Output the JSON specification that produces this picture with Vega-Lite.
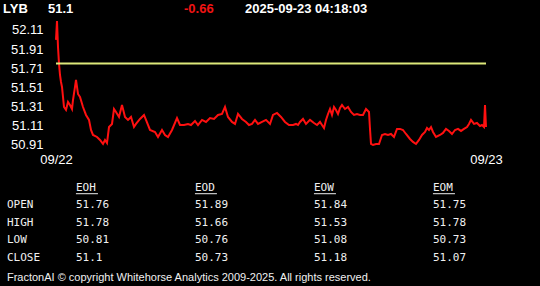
{
  "$schema": "https://vega.github.io/schema/vega-lite/v6.json",
  "background": "black",
  "padding": 0,
  "spacing": 0,
  "config": {"view": {"stroke": null}, "concat": {"spacing": 0}, "axis": {"labelOverlap": false}, "axisY": {"labelOverlap": false}},
  "datasets": {
    "header": [{"sym": "LYB", "last": "51.1", "chg": "-0.66", "ts": "2025-09-23 04:18:03"}],
    "price": [
      {"t":0,"v":52.006},{"t":1,"v":52.204},{"t":2,"v":51.933},{"t":3,"v":51.758},{"t":4,"v":51.640},{"t":5,"v":51.567},{"t":6,"v":51.515},{"t":7,"v":51.411},{"t":8,"v":51.306},{"t":10,"v":51.275},{"t":12,"v":51.358},{"t":14,"v":51.327},{"t":16,"v":51.285},{"t":17,"v":51.379},{"t":19,"v":51.515},{"t":20,"v":51.588},{"t":22,"v":51.442},{"t":24,"v":51.411},{"t":27,"v":51.306},{"t":30,"v":51.223},{"t":33,"v":51.171},{"t":35,"v":51.066},{"t":37,"v":51.014},{"t":41,"v":50.993},{"t":44,"v":50.962},{"t":47,"v":50.920},{"t":49,"v":50.962},{"t":51,"v":50.930},{"t":53,"v":51.097},{"t":56,"v":51.129},{"t":58,"v":51.285},{"t":60,"v":51.254},{"t":63,"v":51.202},{"t":66,"v":51.327},{"t":69,"v":51.202},{"t":72,"v":51.171},{"t":75,"v":51.202},{"t":78,"v":51.097},{"t":80,"v":51.129},{"t":84,"v":51.181},{"t":88,"v":51.223},{"t":90,"v":51.171},{"t":94,"v":51.066},{"t":99,"v":51.045},{"t":102,"v":50.993},{"t":106,"v":51.066},{"t":109,"v":51.014},{"t":112,"v":50.993},{"t":116,"v":51.066},{"t":121,"v":51.191},{"t":124,"v":51.118},{"t":128,"v":51.118},{"t":132,"v":51.129},{"t":135,"v":51.118},{"t":139,"v":51.160},{"t":142,"v":51.118},{"t":146,"v":51.171},{"t":150,"v":51.150},{"t":154,"v":51.191},{"t":158,"v":51.181},{"t":162,"v":51.223},{"t":166,"v":51.233},{"t":169,"v":51.306},{"t":172,"v":51.202},{"t":176,"v":51.150},{"t":179,"v":51.129},{"t":182,"v":51.233},{"t":186,"v":51.181},{"t":190,"v":51.150},{"t":193,"v":51.118},{"t":196,"v":51.129},{"t":199,"v":51.171},{"t":202,"v":51.129},{"t":206,"v":51.150},{"t":210,"v":51.171},{"t":214,"v":51.129},{"t":217,"v":51.223},{"t":221,"v":51.244},{"t":225,"v":51.202},{"t":229,"v":51.150},{"t":233,"v":51.118},{"t":237,"v":51.118},{"t":240,"v":51.129},{"t":242,"v":51.118},{"t":244,"v":51.150},{"t":247,"v":51.181},{"t":250,"v":51.129},{"t":254,"v":51.171},{"t":258,"v":51.139},{"t":261,"v":51.118},{"t":264,"v":51.150},{"t":266,"v":51.118},{"t":268,"v":51.087},{"t":270,"v":51.171},{"t":272,"v":51.233},{"t":274,"v":51.285},{"t":276,"v":51.223},{"t":278,"v":51.306},{"t":280,"v":51.275},{"t":282,"v":51.233},{"t":284,"v":51.296},{"t":286,"v":51.327},{"t":289,"v":51.285},{"t":292,"v":51.306},{"t":295,"v":51.254},{"t":298,"v":51.223},{"t":301,"v":51.233},{"t":304,"v":51.223},{"t":307,"v":51.223},{"t":310,"v":51.285},{"t":313,"v":51.254},{"t":314,"v":51.077},{"t":315,"v":50.920},{"t":317,"v":50.910},{"t":320,"v":50.920},{"t":323,"v":50.920},{"t":326,"v":51.014},{"t":329,"v":51.024},{"t":332,"v":51.014},{"t":335,"v":51.024},{"t":338,"v":50.993},{"t":341,"v":51.077},{"t":344,"v":51.077},{"t":347,"v":51.066},{"t":350,"v":51.024},{"t":354,"v":50.972},{"t":357,"v":50.941},{"t":360,"v":50.920},{"t":363,"v":50.962},{"t":366,"v":51.014},{"t":369,"v":51.045},{"t":371,"v":51.087},{"t":373,"v":51.066},{"t":375,"v":51.097},{"t":377,"v":51.045},{"t":380,"v":50.993},{"t":384,"v":51.014},{"t":387,"v":51.035},{"t":390,"v":51.077},{"t":393,"v":51.056},{"t":396,"v":51.024},{"t":399,"v":51.066},{"t":402,"v":51.077},{"t":405,"v":51.056},{"t":408,"v":51.077},{"t":411,"v":51.097},{"t":413,"v":51.129},{"t":415,"v":51.171},{"t":418,"v":51.129},{"t":421,"v":51.139},{"t":424,"v":51.108},{"t":426,"v":51.118},{"t":428,"v":51.097},{"t":429,"v":51.327},{"t":430,"v":51.097}
    ],
    "ref": [{"level": 51.76}],
    "cols": [{"col": "EOH"}, {"col": "EOD"}, {"col": "EOW"}, {"col": "EOM"}],
    "rows": [{"row": "OPEN"}, {"row": "HIGH"}, {"row": "LOW"}, {"row": "CLOSE"}],
    "table": [
      {"row": "OPEN", "col": "EOH", "val": "51.76"},
      {"row": "OPEN", "col": "EOD", "val": "51.89"},
      {"row": "OPEN", "col": "EOW", "val": "51.84"},
      {"row": "OPEN", "col": "EOM", "val": "51.75"},
      {"row": "HIGH", "col": "EOH", "val": "51.78"},
      {"row": "HIGH", "col": "EOD", "val": "51.66"},
      {"row": "HIGH", "col": "EOW", "val": "51.53"},
      {"row": "HIGH", "col": "EOM", "val": "51.78"},
      {"row": "LOW", "col": "EOH", "val": "50.81"},
      {"row": "LOW", "col": "EOD", "val": "50.76"},
      {"row": "LOW", "col": "EOW", "val": "51.08"},
      {"row": "LOW", "col": "EOM", "val": "50.73"},
      {"row": "CLOSE", "col": "EOH", "val": "51.1"},
      {"row": "CLOSE", "col": "EOD", "val": "50.73"},
      {"row": "CLOSE", "col": "EOW", "val": "51.18"},
      {"row": "CLOSE", "col": "EOM", "val": "51.07"}
    ],
    "footer": [{"text": "FractonAI © copyright Whitehorse Analytics 2009-2025. All rights reserved."}]
  },
  "vconcat": [
    {
      "width": 484,
      "height": 12,
      "data": {"name": "header"},
      "layer": [
        {"mark": {"type": "text", "align": "left", "baseline": "alphabetic", "font": "Liberation Sans", "fontSize": 13, "fontWeight": "bold", "color": "white", "x": -53, "y": 12.5}, "encoding": {"text": {"field": "sym"}}},
        {"mark": {"type": "text", "align": "left", "baseline": "alphabetic", "font": "Liberation Sans", "fontSize": 13, "fontWeight": "bold", "color": "white", "x": -8, "y": 12.5}, "encoding": {"text": {"field": "last"}}},
        {"mark": {"type": "text", "align": "left", "baseline": "alphabetic", "font": "Liberation Sans", "fontSize": 13, "fontWeight": "bold", "color": "#f01414", "x": 128, "y": 12.5}, "encoding": {"text": {"field": "chg"}}},
        {"mark": {"type": "text", "align": "left", "baseline": "alphabetic", "font": "Liberation Sans", "fontSize": 13, "fontWeight": "bold", "color": "white", "x": 189, "y": 12.5}, "encoding": {"text": {"field": "ts"}}}
      ]
    },
    {
      "width": 430,
      "height": 130,
      "resolve": {"axis": {"y": "independent", "x": "independent"}},
      "layer": [
        {
          "data": {"name": "price"},
          "mark": {"type": "line", "color": "#ff1010", "strokeWidth": 2},
          "encoding": {
            "x": {"field": "t", "type": "quantitative", "scale": {"domain": [0, 430], "nice": false, "zero": false},
              "axis": {"values": [0, 430], "labelExpr": "datum.value == 0 ? '09/22' : '09/23'", "labelFlush": false, "labelOverlap": false, "ticks": false, "domain": false, "grid": false, "labelPadding": 3, "labelFont": "Liberation Sans", "labelFontSize": 13, "labelColor": "white", "title": null}},
            "y": {"field": "v", "type": "quantitative", "scale": {"domain": [50.857, 52.214], "nice": false, "zero": false},
              "axis": {"values": [50.91, 51.11, 51.31, 51.51, 51.71, 51.91, 52.11], "format": ".2f", "labelOverlap": false, "labelBound": false, "labelSeparation": 0, "ticks": false, "domain": false, "grid": false, "labelPadding": 13, "minExtent": 56, "labelFont": "Liberation Sans", "labelFontSize": 13, "labelColor": "white", "title": null}}
          }
        },
        {
          "data": {"name": "ref"},
          "mark": {"type": "rule", "color": "#dde87a", "strokeWidth": 2},
          "encoding": {"y": {"field": "level", "type": "quantitative", "axis": null}}
        }
      ]
    },
    {
      "width": 484,
      "height": 123,
      "encoding": {
        "x": {"type": "nominal", "scale": {"type": "point", "domain": ["EOH", "EOD", "EOW", "EOM"], "padding": 0.5336, "align": 0.157}, "axis": null},
        "y": {"type": "nominal", "scale": {"type": "point", "domain": ["hdr", "OPEN", "HIGH", "LOW", "CLOSE", "foot"], "padding": 1.1176, "align": 0.618}, "axis": null}
      },
      "layer": [
        {
          "data": {"name": "cols"},
          "mark": {"type": "text", "align": "left", "baseline": "middle", "font": "DejaVu Sans Mono", "fontSize": 11, "color": "#f0f0f0"},
          "encoding": {"x": {"field": "col", "type": "nominal"}, "y": {"datum": "hdr"}, "text": {"field": "col"}}
        },
        {
          "data": {"name": "cols"},
          "mark": {"type": "rule", "color": "#f0f0f0", "strokeWidth": 1, "x2Offset": 22, "yOffset": 6, "y2Offset": 6},
          "encoding": {"x": {"field": "col", "type": "nominal"}, "x2": {"field": "col"}, "y": {"datum": "hdr"}, "y2": {"datum": "hdr"}}
        },
        {
          "data": {"name": "rows"},
          "mark": {"type": "text", "align": "left", "baseline": "middle", "font": "DejaVu Sans Mono", "fontSize": 11, "color": "#f0f0f0", "dx": -69},
          "encoding": {"x": {"datum": "EOH"}, "y": {"field": "row", "type": "nominal"}, "text": {"field": "row"}}
        },
        {
          "data": {"name": "table"},
          "mark": {"type": "text", "align": "left", "baseline": "middle", "font": "DejaVu Sans Mono", "fontSize": 11, "color": "#f0f0f0"},
          "encoding": {"x": {"field": "col", "type": "nominal"}, "y": {"field": "row", "type": "nominal"}, "text": {"field": "val"}}
        },
        {
          "data": {"name": "footer"},
          "mark": {"type": "text", "align": "left", "baseline": "middle", "font": "Liberation Sans", "fontSize": 11, "color": "#f0f0f0", "dx": -69, "dy": 2},
          "encoding": {"x": {"datum": "EOH"}, "y": {"datum": "foot"}, "text": {"field": "text"}}
        }
      ]
    }
  ]
}
